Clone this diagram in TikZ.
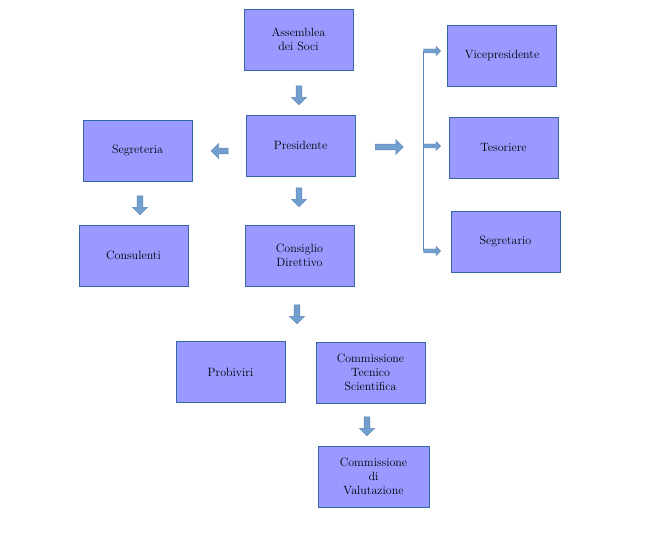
\documentclass[tikz,border=0pt]{standalone}
\usetikzlibrary{shapes.arrows}
\definecolor{boxfill}{HTML}{9999FF}
\definecolor{boxline}{HTML}{3465A4}
\definecolor{arrfill}{HTML}{729FCF}
\tikzset{
  box/.style={draw=boxline, fill=boxfill, minimum width=109pt, minimum height=61pt,
    align=center, font=\fontsize{12}{14}\selectfont, inner sep=1pt},
  blk/.style={single arrow, draw=boxline!80, fill=arrfill, minimum width=15pt,
    single arrow head extend=2pt, minimum height=19pt, inner sep=1pt},
  sblk/.style={blk, minimum width=9pt, minimum height=17pt, single arrow head extend=1.5pt}
}
\begin{document}
\begin{tikzpicture}[x=1pt, y=-1pt]
  \useasboundingbox (0,0) rectangle (671,534);
  % boxes
  \node[box] (assemblea) at (298.5,39.5) {Assemblea\\dei Soci};
  \node[box] (presidente) at (300.5,145.5) {Presidente};
  \node[box] (segreteria) at (137.5,150.5) {Segreteria};
  \node[box] (consulenti) at (133.5,255.5) {Consulenti};
  \node[box] (consiglio) at (299.5,255.5) {Consiglio\\Direttivo};
  \node[box] (vice) at (502,55.5) {Vicepresidente};
  \node[box] (tesoriere) at (503.5,147.5) {Tesoriere};
  \node[box] (segretario) at (505.5,241.5) {Segretario};
  \node[box] (probiviri) at (230.5,372) {Probiviri};
  \node[box] (cts) at (370.5,372.5) {Commissione\\Tecnico\\Scientifica};
  \node[box, minimum width=111pt] (cval) at (373.5,476.5) {Commissione\\di\\Valutazione};

  % block arrows
  \node[blk, shape border rotate=270] (a1) at (299,94) {};
  \node[blk, shape border rotate=270] (a2) at (299,196) {};
  \node[blk, shape border rotate=270] (a3) at (140,204) {};
  \node[blk, shape border rotate=270] (a4) at (297,313) {};
  \node[blk, shape border rotate=270] (a5) at (367,425) {};
  \node[blk, shape border rotate=180, minimum height=17pt] (a6) at (221,151) {};
  \node[blk, minimum height=28pt] (a7) at (388,147) {};

  % bracket
  \coordinate (top) at (423,51);
  \coordinate (bot) at (423,251);
  \draw[boxline!80, thick] (top) -- (bot);
  \node[sblk] (b1) at (431,51) {};
  \node[sblk] (b2) at (431,146) {};
  \node[sblk] (b3) at (431,251) {};
\end{tikzpicture}
\end{document}
